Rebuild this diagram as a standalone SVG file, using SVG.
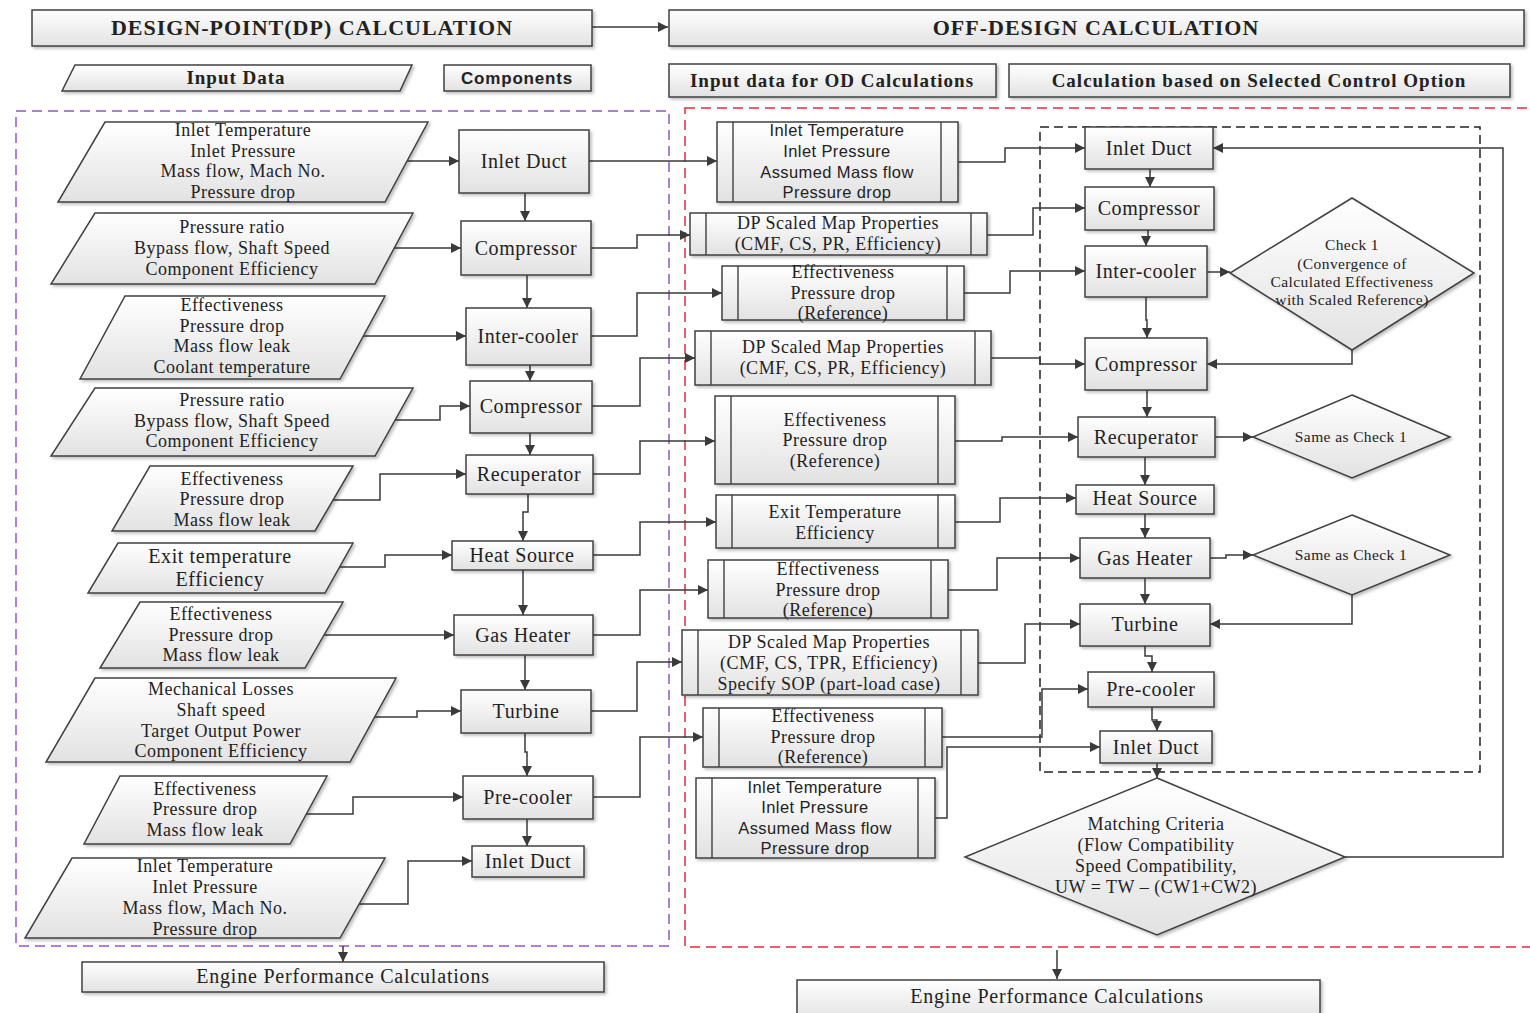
<svg xmlns="http://www.w3.org/2000/svg" width="1530" height="1013" viewBox="0 0 1530 1013">
<defs>
<linearGradient id="g" x1="0" y1="0" x2="0" y2="1">
<stop offset="0" stop-color="#ffffff"/>
<stop offset="1" stop-color="#e2e2e2"/>
</linearGradient>
<filter id="sh" x="-10%" y="-10%" width="130%" height="140%">
<feDropShadow dx="2" dy="2" stdDeviation="1.5" flood-color="#000" flood-opacity="0.25"/>
</filter>
<marker id="ar" markerUnits="userSpaceOnUse" markerWidth="11" markerHeight="10" refX="10" refY="5" orient="auto">
<path d="M0,0 L10,5 L0,10 z" fill="#3a3a3a"/>
</marker>
</defs>
<style>
.n{fill:url(#g);stroke:#404040;stroke-width:1.5;filter:url(#sh)}
.l{fill:none;stroke:#404040;stroke-width:1.4}
.c{fill:none;stroke:#3a3a3a;stroke-width:1.5;marker-end:url(#ar)}
.cn{fill:none;stroke:#3a3a3a;stroke-width:1.5}
text{font-family:"Liberation Serif","Times New Roman",serif;fill:#222;text-anchor:middle}
.h{font-size:22px;font-weight:bold;letter-spacing:1px}
.hb{font-size:19px;font-weight:bold;letter-spacing:1px}
.hs{font-family:"Liberation Sans",Arial,sans-serif;font-size:17px;font-weight:bold;letter-spacing:0.8px}
.m{font-size:18px;letter-spacing:0.5px}
.b{font-size:20px;letter-spacing:0.6px}
.s{font-family:"Liberation Sans",Arial,sans-serif;font-size:16.5px;letter-spacing:0.4px}
.d{font-size:15.5px;letter-spacing:0.4px}
.e{font-size:20px;letter-spacing:0.8px}
</style>
<rect width="1530" height="1013" fill="#fff"/>

<!-- group frames -->
<g id="frames">
<rect x="16" y="111" width="653" height="835" fill="none" stroke="#8e55cc" stroke-width="1.5" stroke-dasharray="10,6"/>
<rect x="685" y="108" width="860" height="839" fill="none" stroke="#e0303a" stroke-width="1.5" stroke-dasharray="10,6"/>
<rect x="1040" y="127" width="440" height="645" fill="none" stroke="#222" stroke-width="1.5" stroke-dasharray="9,5"/>
</g>

<!-- connectors -->
<g id="connectors">
<polyline class="c" points="592,27 668,27"/>
<!-- DP inputs to components -->
<polyline class="c" points="405,161 459,161"/>
<polyline class="c" points="394,248 461,248"/>
<polyline class="c" points="362,336 466,336"/>
<polyline class="c" points="395,420 440,420 440,406 470,406"/>
<polyline class="c" points="333,500 380,500 380,474 466,474"/>
<polyline class="c" points="340,567 385,567 385,555 452,555"/>
<polyline class="c" points="323,635 454,635"/>
<polyline class="c" points="375,717 417,717 417,711 461,711"/>
<polyline class="c" points="306,814 353,814 353,797 463,797"/>
<polyline class="c" points="359,904 408,904 408,861 472,861"/>
<!-- DP vertical chain -->
<polyline class="c" points="525,193 525,221"/>
<polyline class="c" points="527,275 527,308"/>
<polyline class="c" points="530,365 530,381"/>
<polyline class="c" points="530,433 530,455"/>
<polyline class="c" points="528,494 528,512 523,512 523,541"/>
<polyline class="c" points="523,570 523,615"/>
<polyline class="c" points="525,655 525,690"/>
<polyline class="c" points="525,733 525,752 527,752 527,776"/>
<polyline class="c" points="527,819 527,846"/>
<!-- DP to OD inputs -->
<polyline class="c" points="589,161 717,161"/>
<polyline class="c" points="591,248 637,248 637,235 690,235"/>
<polyline class="c" points="591,336 637,336 637,293 722,293"/>
<polyline class="c" points="592,406 640,406 640,358 695,358"/>
<polyline class="c" points="593,474 640,474 640,441 715,441"/>
<polyline class="c" points="593,555 640,555 640,522 716,522"/>
<polyline class="c" points="593,635 640,635 640,590 708,590"/>
<polyline class="c" points="591,711 637,711 637,662 682,662"/>
<polyline class="c" points="593,797 640,797 640,737 703,737"/>
<!-- engine performance arrows -->
<polyline class="c" points="343,946 343,962"/>
<polyline class="c" points="1057,950 1057,979"/>
<!-- OD inputs to components -->
<polyline class="c" points="958,162 1005,162 1005,148 1085,148"/>
<polyline class="c" points="987,235 1033,235 1033,208 1085,208"/>
<polyline class="c" points="964,293 1010,293 1010,271 1085,271"/>
<polyline class="c" points="991,358 1040,358 1040,364 1085,364"/>
<polyline class="c" points="955,441 1002,441 1002,437 1078,437"/>
<polyline class="c" points="955,522 1000,522 1000,498 1076,498"/>
<polyline class="c" points="948,590 997,590 997,558 1080,558"/>
<polyline class="c" points="978,663 1025,663 1025,624 1080,624"/>
<polyline class="c" points="942,737 1042,737 1042,689 1088,689"/>
<polyline class="c" points="935,818 947,818 947,747 1100,747"/>
<!-- OD vertical chain -->
<polyline class="c" points="1150,169 1150,187"/>
<polyline class="c" points="1148,230 1148,238 1146,238 1146,246"/>
<polyline class="c" points="1146,297 1146,320 1147,320 1147,338"/>
<polyline class="c" points="1147,390 1147,417"/>
<polyline class="c" points="1145,457 1145,485"/>
<polyline class="c" points="1145,514 1145,538"/>
<polyline class="c" points="1145,578 1145,604"/>
<polyline class="c" points="1145,646 1145,656 1152,656 1152,672"/>
<polyline class="c" points="1152,707 1152,720 1157,720 1157,731"/>
<polyline class="c" points="1157,763 1157,778"/>
<!-- checks -->
<polyline class="c" points="1207,272 1230,272"/>
<polyline class="c" points="1352,350 1352,364 1207,364"/>
<polyline class="c" points="1215,437 1253,437"/>
<polyline class="c" points="1210,558 1226,558 1226,555 1253,555"/>
<polyline class="c" points="1352,595 1352,624 1210,624"/>
<polyline class="c" points="1345,857 1503,857 1503,148 1213,148"/>
</g>

<!-- headers -->
<g id="dp-header"><rect class="n" x="32" y="10" width="560" height="36"/><text class="h" x="312" y="35">DESIGN-POINT(DP) CALCULATION</text></g>
<g id="od-header"><rect class="n" x="669" y="10" width="855" height="36"/><text class="h" x="1096" y="35">OFF-DESIGN CALCULATION</text></g>
<g id="input-data-label"><polygon class="n" points="75,65 412,65 400,91 62,91"/><text class="hb" x="236" y="84">Input Data</text></g>
<g id="components-label"><rect class="n" x="444" y="65" width="147" height="26"/><text class="hs" x="517" y="84">Components</text></g>
<g id="od-input-label"><rect class="n" x="669" y="64" width="327" height="33"/><text class="hb" x="832" y="87">Input data for OD Calculations</text></g>
<g id="control-label"><rect class="n" x="1009" y="64" width="501" height="33"/><text class="hb" x="1259" y="87">Calculation based on Selected Control Option</text></g>

<!-- DP input parallelograms -->
<g id="dp-in1"><polygon class="n" points="105,122 428,122 385,202 58,202"/><text class="m"><tspan x="243" y="136">Inlet Temperature</tspan><tspan x="243" y="157">Inlet Pressure</tspan><tspan x="243" y="177">Mass flow, Mach No.</tspan><tspan x="243" y="198">Pressure drop</tspan></text></g>
<g id="dp-in2"><polygon class="n" points="95,213 413,213 375,284 51,284"/><text class="m"><tspan x="232" y="233">Pressure ratio</tspan><tspan x="232" y="254">Bypass flow, Shaft Speed</tspan><tspan x="232" y="275">Component Efficiency</tspan></text></g>
<g id="dp-in3"><polygon class="n" points="125,296 385,296 340,379 80,379"/><text class="m"><tspan x="232" y="311">Effectiveness</tspan><tspan x="232" y="332">Pressure drop</tspan><tspan x="232" y="352">Mass flow leak</tspan><tspan x="232" y="373">Coolant temperature</tspan></text></g>
<g id="dp-in4"><polygon class="n" points="95,388 413,388 375,456 51,456"/><text class="m"><tspan x="232" y="406">Pressure ratio</tspan><tspan x="232" y="427">Bypass flow, Shaft Speed</tspan><tspan x="232" y="447">Component Efficiency</tspan></text></g>
<g id="dp-in5"><polygon class="n" points="150,466 353,466 315,531 112,531"/><text class="m"><tspan x="232" y="485">Effectiveness</tspan><tspan x="232" y="505">Pressure drop</tspan><tspan x="232" y="526">Mass flow leak</tspan></text></g>
<g id="dp-in6"><polygon class="n" points="118,543 353,543 325,593 88,593"/><text class="b"><tspan x="220" y="563">Exit temperature</tspan><tspan x="220" y="586">Efficiency</tspan></text></g>
<g id="dp-in7"><polygon class="n" points="140,602 343,602 305,668 100,668"/><text class="m"><tspan x="221" y="620">Effectiveness</tspan><tspan x="221" y="641">Pressure drop</tspan><tspan x="221" y="661">Mass flow leak</tspan></text></g>
<g id="dp-in8"><polygon class="n" points="95,678 396,678 350,762 46,762"/><text class="m"><tspan x="221" y="695">Mechanical Losses</tspan><tspan x="221" y="716">Shaft speed</tspan><tspan x="221" y="737">Target Output Power</tspan><tspan x="221" y="757">Component Efficiency</tspan></text></g>
<g id="dp-in9"><polygon class="n" points="120,776 327,776 290,844 84,844"/><text class="m"><tspan x="205" y="795">Effectiveness</tspan><tspan x="205" y="815">Pressure drop</tspan><tspan x="205" y="836">Mass flow leak</tspan></text></g>
<g id="dp-in10"><polygon class="n" points="72,858 385,858 340,938 25,938"/><text class="m"><tspan x="205" y="872">Inlet Temperature</tspan><tspan x="205" y="893">Inlet Pressure</tspan><tspan x="205" y="914">Mass flow, Mach No.</tspan><tspan x="205" y="935">Pressure drop</tspan></text></g>

<!-- DP components -->
<g id="dp-inlet-duct"><rect class="n" x="459" y="130" width="130" height="63"/><text class="b" x="524" y="168">Inlet Duct</text></g>
<g id="dp-compressor1"><rect class="n" x="461" y="221" width="130" height="54"/><text class="b" x="526" y="255">Compressor</text></g>
<g id="dp-intercooler"><rect class="n" x="466" y="308" width="125" height="57"/><text class="b" x="528" y="343">Inter-cooler</text></g>
<g id="dp-compressor2"><rect class="n" x="470" y="381" width="122" height="52"/><text class="b" x="531" y="413">Compressor</text></g>
<g id="dp-recuperator"><rect class="n" x="466" y="455" width="127" height="39"/><text class="b" x="529" y="481">Recuperator</text></g>
<g id="dp-heat-source"><rect class="n" x="452" y="541" width="141" height="29"/><text class="b" x="522" y="562">Heat Source</text></g>
<g id="dp-gas-heater"><rect class="n" x="454" y="615" width="139" height="40"/><text class="b" x="523" y="642">Gas Heater</text></g>
<g id="dp-turbine"><rect class="n" x="461" y="690" width="130" height="43"/><text class="b" x="526" y="718">Turbine</text></g>
<g id="dp-precooler"><rect class="n" x="463" y="776" width="130" height="43"/><text class="b" x="528" y="804">Pre-cooler</text></g>
<g id="dp-inlet-duct2"><rect class="n" x="472" y="846" width="112" height="31"/><text class="b" x="528" y="868">Inlet Duct</text></g>

<!-- OD inputs -->
<g id="od-in1"><rect class="n" x="717" y="122" width="241" height="80"/><path class="l" d="M733,122V202M941,122V202"/><text class="s"><tspan x="837" y="136">Inlet Temperature</tspan><tspan x="837" y="157">Inlet Pressure</tspan><tspan x="837" y="178">Assumed Mass flow</tspan><tspan x="837" y="198">Pressure drop</tspan></text></g>
<g id="od-in2"><rect class="n" x="690" y="213" width="297" height="42"/><path class="l" d="M706,213V255M971,213V255"/><text class="m"><tspan x="838" y="229">DP Scaled Map Properties</tspan><tspan x="838" y="250">(CMF, CS, PR, Efficiency)</tspan></text></g>
<g id="od-in3"><rect class="n" x="722" y="266" width="242" height="54"/><path class="l" d="M738,266V320M947,266V320"/><text class="m"><tspan x="843" y="278">Effectiveness</tspan><tspan x="843" y="299">Pressure drop</tspan><tspan x="843" y="319">(Reference)</tspan></text></g>
<g id="od-in4"><rect class="n" x="695" y="331" width="296" height="54"/><path class="l" d="M711,331V385M975,331V385"/><text class="m"><tspan x="843" y="353">DP Scaled Map Properties</tspan><tspan x="843" y="374">(CMF, CS, PR, Efficiency)</tspan></text></g>
<g id="od-in5"><rect class="n" x="715" y="396" width="240" height="88"/><path class="l" d="M731,396V484M938,396V484"/><text class="m"><tspan x="835" y="426">Effectiveness</tspan><tspan x="835" y="446">Pressure drop</tspan><tspan x="835" y="467">(Reference)</tspan></text></g>
<g id="od-in6"><rect class="n" x="716" y="495" width="239" height="53"/><path class="l" d="M732,495V548M938,495V548"/><text class="m"><tspan x="835" y="518">Exit Temperature</tspan><tspan x="835" y="539">Efficiency</tspan></text></g>
<g id="od-in7"><rect class="n" x="708" y="560" width="240" height="58"/><path class="l" d="M724,560V618M931,560V618"/><text class="m"><tspan x="828" y="575">Effectiveness</tspan><tspan x="828" y="596">Pressure drop</tspan><tspan x="828" y="616">(Reference)</tspan></text></g>
<g id="od-in8"><rect class="n" x="682" y="630" width="296" height="65"/><path class="l" d="M698,630V695M961,630V695"/><text class="m"><tspan x="829" y="648">DP Scaled Map Properties</tspan><tspan x="829" y="669">(CMF, CS, TPR, Efficiency)</tspan><tspan x="829" y="690">Specify SOP (part-load case)</tspan></text></g>
<g id="od-in9"><rect class="n" x="703" y="708" width="239" height="59"/><path class="l" d="M719,708V767M925,708V767"/><text class="m"><tspan x="823" y="722">Effectiveness</tspan><tspan x="823" y="743">Pressure drop</tspan><tspan x="823" y="763">(Reference)</tspan></text></g>
<g id="od-in10"><rect class="n" x="696" y="778" width="239" height="80"/><path class="l" d="M712,778V858M918,778V858"/><text class="s"><tspan x="815" y="793">Inlet Temperature</tspan><tspan x="815" y="813">Inlet Pressure</tspan><tspan x="815" y="834">Assumed Mass flow</tspan><tspan x="815" y="854">Pressure drop</tspan></text></g>

<!-- OD components -->
<g id="od-inlet-duct"><rect class="n" x="1085" y="127" width="128" height="42"/><text class="b" x="1149" y="155">Inlet Duct</text></g>
<g id="od-compressor1"><rect class="n" x="1085" y="187" width="129" height="43"/><text class="b" x="1149" y="215">Compressor</text></g>
<g id="od-intercooler"><rect class="n" x="1085" y="246" width="122" height="51"/><text class="b" x="1146" y="278">Inter-cooler</text></g>
<g id="od-compressor2"><rect class="n" x="1085" y="338" width="122" height="52"/><text class="b" x="1146" y="371">Compressor</text></g>
<g id="od-recuperator"><rect class="n" x="1078" y="417" width="137" height="40"/><text class="b" x="1146" y="444">Recuperator</text></g>
<g id="od-heat-source"><rect class="n" x="1076" y="485" width="138" height="29"/><text class="b" x="1145" y="505">Heat Source</text></g>
<g id="od-gas-heater"><rect class="n" x="1080" y="538" width="130" height="40"/><text class="b" x="1145" y="565">Gas Heater</text></g>
<g id="od-turbine"><rect class="n" x="1080" y="604" width="130" height="42"/><text class="b" x="1145" y="631">Turbine</text></g>
<g id="od-precooler"><rect class="n" x="1088" y="672" width="126" height="35"/><text class="b" x="1151" y="696">Pre-cooler</text></g>
<g id="od-inlet-duct2"><rect class="n" x="1100" y="731" width="112" height="32"/><text class="b" x="1156" y="754">Inlet Duct</text></g>

<!-- decisions -->
<g id="check1"><polygon class="n" points="1352,198 1474,273 1352,350 1230,273"/><text class="d"><tspan x="1352" y="250">Check 1</tspan><tspan x="1352" y="269">(Convergence of</tspan><tspan x="1352" y="287">Calculated Effectiveness</tspan><tspan x="1352" y="305">with Scaled Reference)</tspan></text></g>
<g id="check-recuperator"><polygon class="n" points="1352,395 1450,437 1352,478 1253,437"/><text class="d" x="1351" y="442">Same as Check 1</text></g>
<g id="check-gas-heater"><polygon class="n" points="1352,515 1450,555 1352,595 1253,555"/><text class="d" x="1351" y="560">Same as Check 1</text></g>
<g id="matching"><polygon class="n" points="1157,778 1345,857 1157,935 965,857"/><text class="m"><tspan x="1156" y="830">Matching Criteria</tspan><tspan x="1156" y="851">(Flow Compatibility</tspan><tspan x="1156" y="872">Speed Compatibility,</tspan><tspan x="1156" y="893">UW = TW – (CW1+CW2)</tspan></text></g>

<!-- results -->
<g id="dp-engine-performance"><rect class="n" x="82" y="962" width="522" height="30"/><text class="e" x="343" y="983">Engine Performance Calculations</text></g>
<g id="od-engine-performance"><rect class="n" x="797" y="980" width="523" height="40"/><text class="e" x="1057" y="1003">Engine Performance Calculations</text></g>
</svg>
